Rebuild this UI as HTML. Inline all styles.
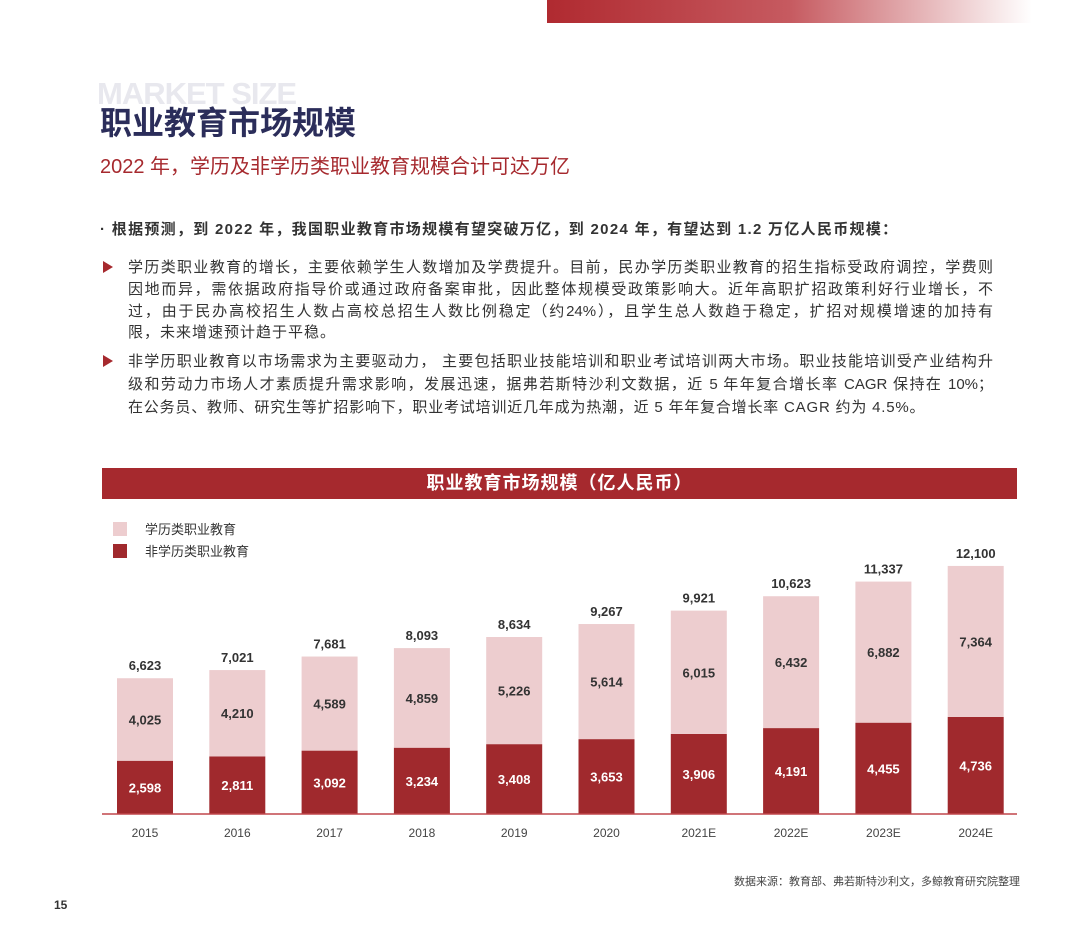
<!DOCTYPE html>
<html><head><meta charset="utf-8">
<style>
body{margin:0;width:1080px;height:949px;background:#fff;position:relative;overflow:hidden;font-family:"Liberation Sans","Noto Sans CJK SC",sans-serif;}
.abs{position:absolute;}
.ln{position:absolute;left:128px;width:865px;font-size:15px;color:#333;text-align:justify;text-align-last:justify;white-space:nowrap;line-height:20px;}
.tri{position:absolute;left:103px;width:0;height:0;border-left:10px solid #a6292e;border-top:6px solid transparent;border-bottom:6px solid transparent;}
</style></head><body>
<div class="abs" style="left:547px;top:0;width:485px;height:23px;background:linear-gradient(90deg,#b02a30,#c65a60 50%,#fff);"></div>
<div class="abs" style="left:97px;top:76px;font-size:31px;font-weight:bold;color:#e8e8ee;letter-spacing:-1px;">MARKET SIZE</div>
<div class="abs" style="left:100px;top:98px;font-size:32px;font-weight:bold;color:#2b2d5a;">职业教育市场规模</div>
<div class="abs" style="left:100px;top:150px;font-size:20px;color:#a6292e;">2022 年，学历及非学历类职业教育规模合计可达万亿</div>
<div class="abs" style="left:100px;top:218px;font-size:15px;font-weight:bold;color:#333;letter-spacing:1.3px;">· 根据预测，到 2022 年，我国职业教育市场规模有望突破万亿，到 2024 年，有望达到 1.2 万亿人民币规模：</div>
<div class="tri" style="top:261px"></div>
<div class="ln" style="top:258px">学历类职业教育的增长，主要依赖学生人数增加及学费提升。目前，民办学历类职业教育的招生指标受政府调控，学费则</div>
<div class="ln" style="top:280px">因地而异，需依据政府指导价或通过政府备案审批，因此整体规模受政策影响大。近年高职扩招政策利好行业增长，不</div>
<div class="ln" style="top:302px">过，由于民办高校招生人数占高校总招生人数比例稳定（约24%），且学生总人数趋于稳定，扩招对规模增速的加持有</div>
<div class="ln" style="top:323px;text-align-last:left;letter-spacing:1px">限，未来增速预计趋于平稳。</div>
<div class="tri" style="top:355px"></div>
<div class="ln" style="top:352px">非学历职业教育以市场需求为主要驱动力， 主要包括职业技能培训和职业考试培训两大市场。职业技能培训受产业结构升</div>
<div class="ln" style="top:375px">级和劳动力市场人才素质提升需求影响，发展迅速，据弗若斯特沙利文数据，近 5 年年复合增长率 CAGR 保持在 10%；</div>
<div class="ln" style="top:398px;text-align-last:left;letter-spacing:0.8px">在公务员、教师、研究生等扩招影响下，职业考试培训近几年成为热潮，近 5 年年复合增长率 CAGR 约为 4.5%。</div>
<div class="abs" style="left:102px;top:468px;width:915px;height:31px;background:#a6292e;color:#fff;font-size:18px;font-weight:bold;text-align:center;line-height:31px;letter-spacing:1px;">职业教育市场规模（亿人民币）</div>
<svg class="abs" style="left:0;top:0" width="1080" height="949" id="chart"></svg>
<div class="abs" style="left:734px;top:873px;font-size:11px;color:#444;">数据来源：教育部、弗若斯特沙利文，多鲸教育研究院整理</div>
<div class="abs" style="left:54px;top:898px;font-size:12px;font-weight:bold;color:#333;">15</div>
<script>
const categories=["2015","2016","2017","2018","2019","2020","2021E","2022E","2023E","2024E"];
const nonDegree=[2598,2811,3092,3234,3408,3653,3906,4191,4455,4736];
const degree=[4025,4210,4589,4859,5226,5614,6015,6432,6882,7364];
const totals=[6623,7021,7681,8093,8634,9267,9921,10623,11337,12100];
const NS="http://www.w3.org/2000/svg";
const svg=document.getElementById('chart');
const base=814,scale=0.0205,x0=117,step=92.3,bw=56;
const yS=v=>v*scale;
const fmt=v=>v.toLocaleString('en-US');
function mk(t,a){const e=document.createElementNS(NS,t);for(const k in a)e.setAttribute(k,a[k]);svg.appendChild(e);return e;}
let l1=mk('rect',{x:113,y:522,width:14,height:14,fill:'#edcdcf'});


let t1=mk('text',{x:145,y:534,'font-size':13,fill:'#333'});t1.textContent='学历类职业教育';


let l2=mk('rect',{x:113,y:544,width:14,height:14,fill:'#a0292d'});


let t2=mk('text',{x:145,y:556,'font-size':13,fill:'#333'});t2.textContent='非学历类职业教育';


categories.forEach((c,i)=>{
  const x=x0+i*step,cx=x+bw/2;
  const hd=yS(nonDegree[i]),hl=yS(degree[i]);
  const r1=mk('rect',{x:x,y:base-hd,width:bw,height:hd,fill:'#a0292d'});
  
  
  const r2=mk('rect',{x:x,y:base-hd-hl,width:bw,height:hl,fill:'#edcdcf'});
  
  
  const a=mk('text',{x:cx,y:base-hd/2+5,'font-size':13,'font-weight':'bold',fill:'#fff','text-anchor':'middle'});a.textContent=fmt(nonDegree[i]);
  
  
  const b=mk('text',{x:cx,y:base-hd-hl/2+5,'font-size':13,'font-weight':'bold',fill:'#333','text-anchor':'middle'});b.textContent=fmt(degree[i]);
  
  
  const t=mk('text',{x:cx,y:base-hd-hl-8,'font-size':13,'font-weight':'bold',fill:'#333','text-anchor':'middle'});t.textContent=fmt(totals[i]);
  
  
  const xl=mk('text',{x:cx,y:base+23,'font-size':12,fill:'#444','text-anchor':'middle'});xl.textContent=c;
  
  
});
const ax=mk('line',{x1:102,x2:1017,y1:base,y2:base,stroke:'#c0474b','stroke-width':1.5});


</script>
</body></html>
